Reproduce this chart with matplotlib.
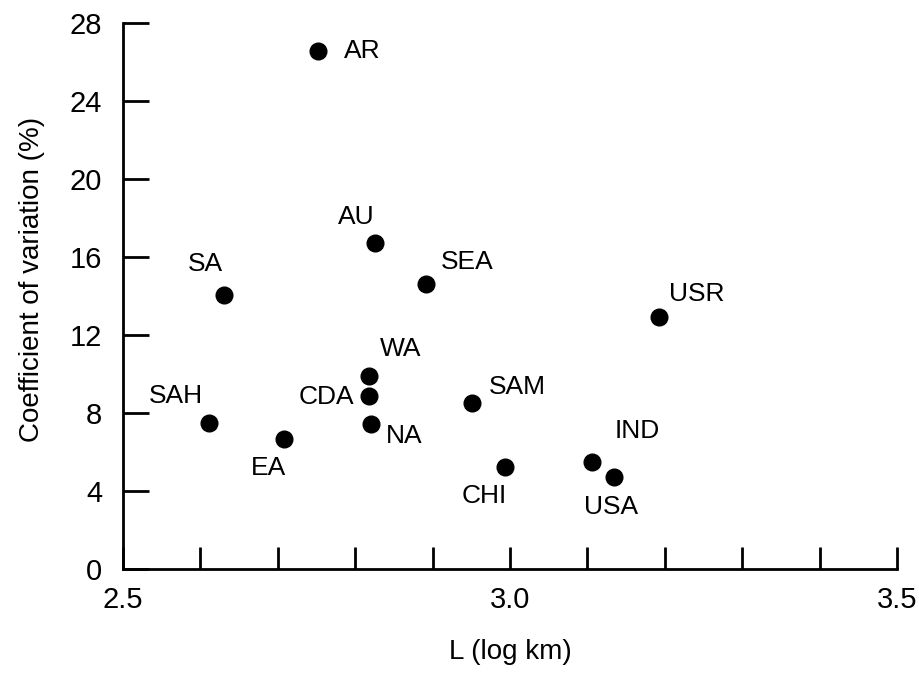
import matplotlib.pyplot as plt
import numpy as np

plt.rcParams['font.family'] = ['Liberation Sans', 'DejaVu Sans']

# regions, L (log km), coefficient of variation (%)
regions = ["AR", "AU", "SEA", "SA", "USR", "WA", "CDA", "NA",
           "SAH", "EA", "SAM", "CHI", "IND", "USA"]
log_km = [2.752, 2.826, 2.891, 2.630, 3.193, 2.818, 2.818, 2.820,
          2.611, 2.708, 2.951, 2.994, 3.106, 3.134]
cv = [26.55, 16.70, 14.60, 14.05, 12.91, 9.91, 8.89, 7.44,
      7.47, 6.65, 8.53, 5.25, 5.50, 4.73]

# label offsets in points (dx, dy, horizontal alignment)
label_pos = {
    "AR": (19, 0, "left"), "AU": (-14, 19, "center"), "SEA": (11, 16, "left"),
    "SA": (-13, 22, "center"), "USR": (7, 17, "left"), "WA": (8, 19, "left"),
    "CDA": (-11, -1, "right"), "NA": (11, -9, "left"), "SAH": (-24, 20, "center"),
    "EA": (-11, -21, "center"), "SAM": (12, 11, "left"), "CHI": (-15, -21, "center"),
    "IND": (16, 22, "left"), "USA": (-2, -22, "center"),
}

fig = plt.figure(figsize=(9.2, 6.74), dpi=100)
ax = fig.add_axes([0.1337, 0.1558, 0.975 - 0.1337, 0.9659 - 0.1558])

ax.plot(log_km, cv, "o", color="black", markersize=12, clip_on=False)
for name, x, y in zip(regions, log_km, cv):
    dx, dy, ha = label_pos[name]
    ax.annotate(name, (x, y), xytext=(dx, dy), textcoords="offset points",
                ha=ha, va="center", fontsize=19)

ax.set_xlim(2.5, 3.5)
ax.set_ylim(0, 28)
ax.set_xticks(np.arange(2.5, 3.51, 0.1))
ax.set_xticklabels(["2.5", "", "", "", "", "3.0", "", "", "", "", "3.5"])
ax.set_yticks(np.arange(0, 29, 4))

ax.spines["top"].set_visible(False)
ax.spines["right"].set_visible(False)
for s in ("left", "bottom"):
    ax.spines[s].set_linewidth(2)

ax.tick_params(axis="x", direction="in", length=16, width=2, pad=12, labelsize=21)
ax.tick_params(axis="y", direction="in", length=19, width=2, pad=15, labelsize=21)

ax.set_xlabel("L (log km)", fontsize=20, labelpad=18)
ax.set_ylabel("Coefficient of variation (%)", fontsize=20, labelpad=18, y=0.53)

fig.savefig("out.png", dpi=100)
